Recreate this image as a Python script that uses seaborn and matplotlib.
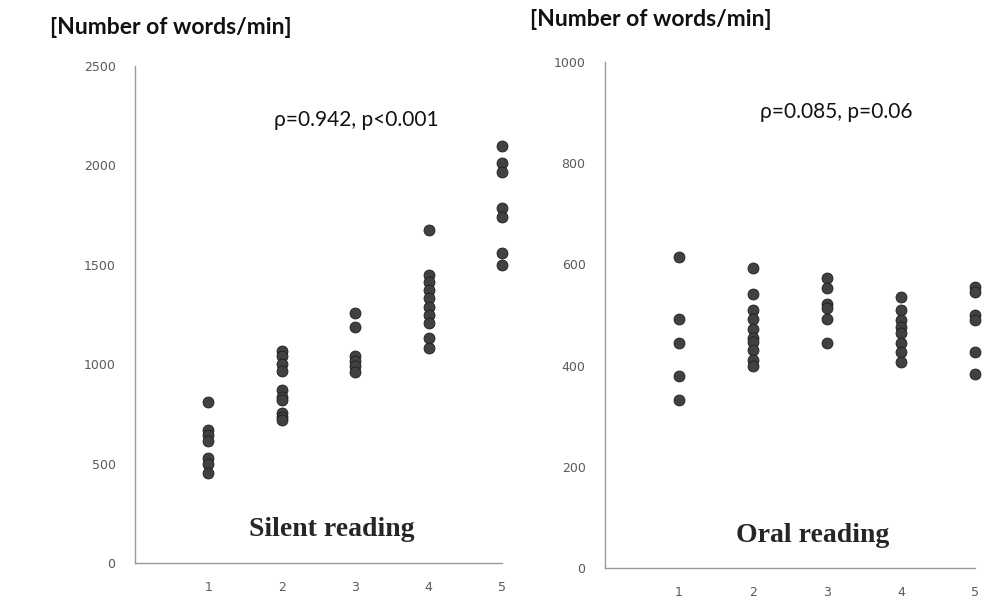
import numpy as np
import pandas as pd
import matplotlib
matplotlib.use("Agg")
import matplotlib.pyplot as plt
import seaborn as sns

# ─────────────────────────────────────────────
# Data (words per minute by grade 1-5)
# ─────────────────────────────────────────────
silent_g1 = [810, 670, 645, 615, 530, 500, 455]
silent_g2 = [1065, 1040, 1000, 965, 870, 835, 820, 755, 735, 720]
silent_g3 = [1260, 1185, 1040, 1015, 990, 960]
silent_g4 = [1675, 1450, 1415, 1375, 1335, 1290, 1250, 1205, 1130, 1080]
silent_g5 = [2100, 2010, 1965, 1785, 1740, 1560, 1500]

oral_g1 = [615, 492, 444, 379, 332]
oral_g2 = [592, 541, 510, 493, 472, 454, 447, 431, 411, 399]
oral_g3 = [574, 553, 522, 513, 492, 444]
oral_g4 = [536, 510, 490, 476, 464, 445, 427, 408]
oral_g5 = [556, 546, 500, 490, 427, 383]

grades = [1, 2, 3, 4, 5]
silent_yticks = [0, 500, 1000, 1500, 2000, 2500]
oral_yticks = [0, 200, 400, 600, 800, 1000]

silent_label = "Silent reading"
oral_label = "Oral reading"
silent_stat = "\u03c1=0.942, p<0.001"
oral_stat = "\u03c1=0.085, p=0.06"
unit_label = "[Number of words/min]"


def to_frame(groups):
    rows = []
    for g, vals in zip(grades, groups):
        for v in vals:
            rows.append({"grade": g, "wpm": v})
    return pd.DataFrame(rows)


df_silent = to_frame([silent_g1, silent_g2, silent_g3, silent_g4, silent_g5])
df_oral = to_frame([oral_g1, oral_g2, oral_g3, oral_g4, oral_g5])

sns.set_style("white")
plt.rcParams["font.family"] = ["Liberation Sans Narrow", "DejaVu Sans"]

W, H = 985, 608
fig = plt.figure(figsize=(W / 100, H / 100), dpi=100)


def px_axes(x0, y0, x1, y1):
    # pixel box (top-left origin) -> figure fraction axes
    return fig.add_axes([x0 / W, 1 - y1 / H, (x1 - x0) / W, (y1 - y0) / H])


def style_axes(ax, yticks, ymax):
    ax.set_xlim(0, 5)
    ax.set_ylim(0, ymax)
    ax.set_xticks(grades)
    ax.set_yticks(yticks)
    ax.set_xlabel("")
    ax.set_ylabel("")
    for side in ["top", "right"]:
        ax.spines[side].set_visible(False)
    for side in ["left", "bottom"]:
        ax.spines[side].set_color("#9a9a9a")
        ax.spines[side].set_linewidth(1.0)
    ax.tick_params(axis="both", colors="#9a9a9a", labelcolor="#5a5a5a",
                   labelsize=9, length=4, width=0.9, direction="out")
    ax.tick_params(axis="y", pad=10)
    ax.tick_params(axis="x", pad=9)


marker_kw = dict(s=62, color="#414141", edgecolor="#1e1e1e", linewidth=0.6,
                 legend=False, zorder=3, clip_on=False)

ax1 = px_axes(135, 66, 502, 563)
sns.scatterplot(data=df_silent, x="grade", y="wpm", ax=ax1, **marker_kw)
style_axes(ax1, silent_yticks, 2500)

ax2 = px_axes(605, 62, 975, 568)
sns.scatterplot(data=df_oral, x="grade", y="wpm", ax=ax2, **marker_kw)
style_axes(ax2, oral_yticks, 1000)

# header labels
fig.text(50 / W, 1 - 28 / H, unit_label, fontsize=16.5, fontweight="bold",
         family=["Lato", "DejaVu Sans"], va="center", ha="left", color="#111111")
fig.text(530 / W, 1 - 20 / H, unit_label, fontsize=16.5, fontweight="bold",
         family=["Lato", "DejaVu Sans"], va="center", ha="left", color="#111111")

# correlation annotations
fig.text(274 / W, 1 - 120 / H, silent_stat, fontsize=15,
         family=["Lato", "DejaVu Sans"], va="center", ha="left", color="#111111")
fig.text(760 / W, 1 - 112 / H, oral_stat, fontsize=15,
         family=["Lato", "DejaVu Sans"], va="center", ha="left", color="#111111")

# panel titles
fig.text(332 / W, 1 - 530 / H, silent_label, fontsize=20, fontweight="bold",
         family=["Liberation Serif", "DejaVu Serif"], va="center", ha="center")
fig.text(813 / W, 1 - 535 / H, oral_label, fontsize=20, fontweight="bold",
         family=["Liberation Serif", "DejaVu Serif"], va="center", ha="center")

fig.savefig("out.png", dpi=100, facecolor="white")
